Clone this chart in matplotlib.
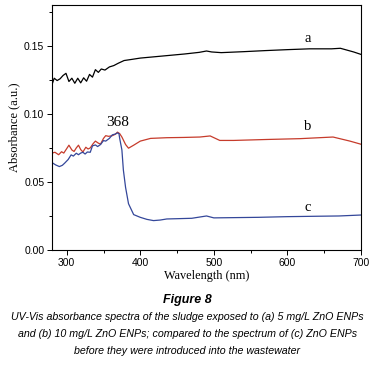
import matplotlib
matplotlib.use("Agg")
import matplotlib.pyplot as plt
from matplotlib.ticker import MultipleLocator, FormatStrFormatter

# spectrum a: sludge with 5 mg/L ZnO ENPs
wl_a = [280, 283, 287, 291, 295, 299, 303, 307, 311, 315, 319, 323, 327, 331, 335, 339,
        343, 347, 352, 358, 364, 370, 378, 388, 400, 420, 440, 460, 480, 490, 497, 510,
        540, 570, 600, 630, 660, 672, 680, 690, 700]
abs_a = [0.1215, 0.1262, 0.1245, 0.1258, 0.1282, 0.1298, 0.1238, 0.1262, 0.1225, 0.1262,
         0.1228, 0.1265, 0.1240, 0.1290, 0.1270, 0.1325, 0.1305, 0.1330, 0.1322, 0.1345,
         0.1355, 0.1372, 0.1392, 0.1400, 0.1410, 0.1420, 0.1430, 0.1440, 0.1452, 0.1462,
         0.1455, 0.1450, 0.1457, 0.1465, 0.1472, 0.1478, 0.1478, 0.1482, 0.1470, 0.1455, 0.1437]

# spectrum b: sludge with 10 mg/L ZnO ENPs
wl_b = [280, 284, 289, 293, 296, 300, 303, 307, 310, 313, 316, 319, 322, 326, 329, 332,
        336, 339, 343, 346, 350, 353, 357, 362, 366, 369, 372, 375, 380, 384, 391, 400,
        414, 436, 459, 481, 495, 508, 527, 572, 617, 662, 685, 700]
abs_b = [0.0712, 0.0718, 0.0700, 0.0722, 0.0712, 0.0745, 0.0770, 0.0735, 0.0724, 0.0750,
         0.0770, 0.0738, 0.0720, 0.0755, 0.0742, 0.0750, 0.0782, 0.0800, 0.0785, 0.0778,
         0.0820, 0.0840, 0.0835, 0.0840, 0.0850, 0.0866, 0.0855, 0.0830, 0.0775, 0.0748,
         0.0770, 0.0800, 0.0820, 0.0825, 0.0827, 0.0830, 0.0838, 0.0805, 0.0805, 0.0812,
         0.0818, 0.0830, 0.0800, 0.0777]

# spectrum c: ZnO ENPs before introduction into wastewater
wl_c = [280, 285, 290, 294, 297, 302, 306, 309, 313, 316, 319, 322, 325, 328, 332, 335,
        339, 342, 346, 350, 353, 358, 362, 366, 369, 371, 372, 375, 377, 380, 384, 391,
        400, 409, 418, 427, 436, 450, 470, 490, 500, 530, 560, 600, 640, 670, 700]
abs_c = [0.0642, 0.0625, 0.0613, 0.0622, 0.0637, 0.0665, 0.0699, 0.0690, 0.0711, 0.0700,
         0.0712, 0.0718, 0.0705, 0.0720, 0.0718, 0.0765, 0.0772, 0.0760, 0.0775, 0.0804,
         0.0800, 0.0820, 0.0846, 0.0852, 0.0860, 0.0855, 0.0820, 0.0735, 0.0588, 0.0460,
         0.0340, 0.0260, 0.0240, 0.0225, 0.0216, 0.0220, 0.0228, 0.0230, 0.0233, 0.0250,
         0.0236, 0.0238, 0.0240, 0.0245, 0.0248, 0.0250, 0.0257]

curve_labels = ["a", "b", "c"]
label_pos = [(628, 0.1555), (628, 0.0905), (628, 0.0315)]
peak_label = "368"
peak_pos = (369, 0.0935)

caption_title = "Figure 8"
caption_lines = [
    "UV-Vis absorbance spectra of the sludge exposed to (a) 5 mg/L ZnO ENPs",
    "and (b) 10 mg/L ZnO ENPs; compared to the spectrum of (c) ZnO ENPs",
    "before they were introduced into the wastewater",
]

serif = ["Liberation Serif", "DejaVu Serif"]
sans = ["Liberation Sans", "DejaVu Sans"]

fig = plt.figure(figsize=(3.75, 3.68), dpi=100)
ax = fig.add_axes([52 / 375, 1 - 250 / 368, 309 / 375, 245 / 368])

ax.plot(wl_a, abs_a, color="black", lw=0.9)
ax.plot(wl_b, abs_b, color="#c63b2b", lw=0.9)
ax.plot(wl_c, abs_c, color="#34479a", lw=0.9)

for lab, (x, y) in zip(curve_labels, label_pos):
    ax.text(x, y, lab, family=serif, fontsize=10.5, ha="center", va="center")
ax.text(peak_pos[0], peak_pos[1], peak_label, family=serif, fontsize=11, ha="center", va="center")

ax.set_xlim(280, 700)
ax.set_ylim(0, 0.18)
ax.xaxis.set_major_locator(MultipleLocator(100))
ax.xaxis.set_minor_locator(MultipleLocator(50))
ax.yaxis.set_major_locator(MultipleLocator(0.05))
ax.yaxis.set_minor_locator(MultipleLocator(0.025))
ax.yaxis.set_major_formatter(FormatStrFormatter("%.2f"))
ax.tick_params(which="major", direction="out", length=3.5, width=0.7, labelsize=7.5, pad=2)
ax.tick_params(which="minor", direction="out", length=2, width=0.7)
for lbl in ax.get_xticklabels() + ax.get_yticklabels():
    lbl.set_family(sans)
for sp in ax.spines.values():
    sp.set_linewidth(0.8)

ax.set_xlabel("Wavelength (nm)", family=serif, fontsize=8.8, labelpad=2)
ax.set_ylabel("Absorbance (a.u.)", family=serif, fontsize=9, labelpad=3)

fig.text(0.5, 1 - 300 / 368, caption_title, family=sans, fontsize=9, fontweight="bold",
         style="italic", ha="center", va="center")
for i, line in enumerate(caption_lines):
    fig.text(0.5, 1 - (317 + 17 * i) / 368, line, family=sans, fontsize=7.7, style="italic",
             ha="center", va="center")

fig.savefig("out.png", dpi=100)
